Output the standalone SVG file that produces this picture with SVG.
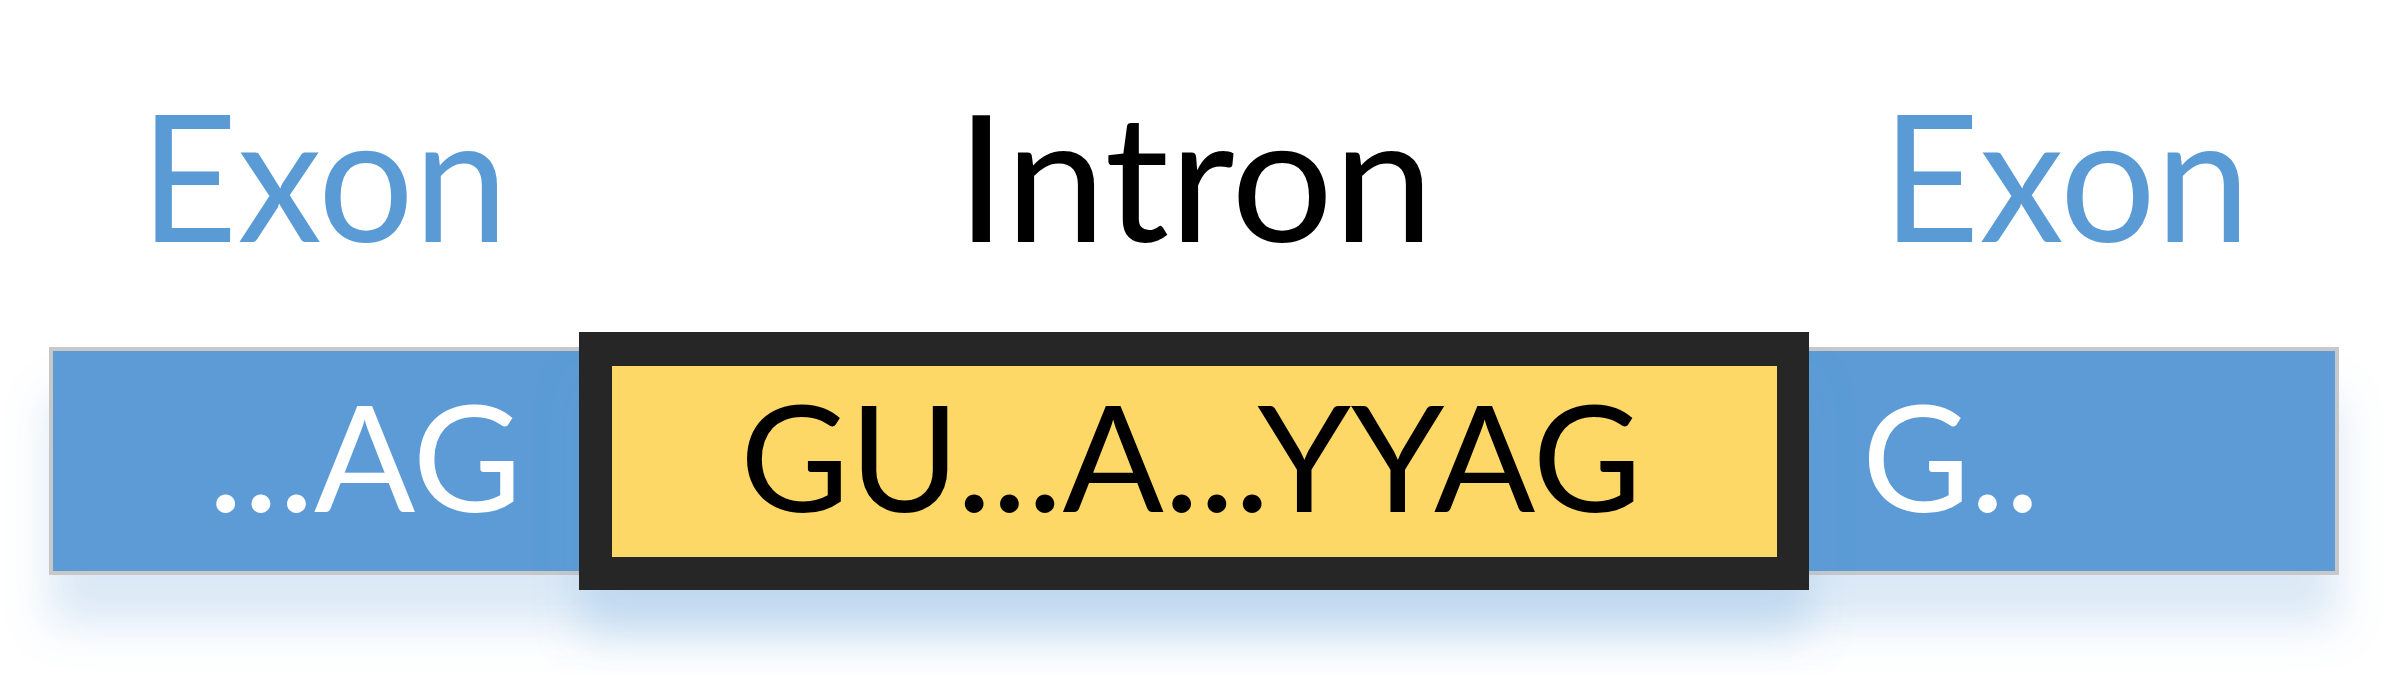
<svg xmlns="http://www.w3.org/2000/svg" width="2400" height="675" viewBox="0 0 2400 675">
  <defs>
    <filter id="shadow" x="-5%" y="-20%" width="110%" height="190%">
      <feGaussianBlur in="SourceAlpha" stdDeviation="22" result="b"/>
      <feOffset in="b" dy="50" result="o"/>
      <feFlood flood-color="#5B9BD5" flood-opacity="0.22"/>
      <feComposite in2="o" operator="in" result="s"/>
      <feMerge>
        <feMergeNode in="s"/>
        <feMergeNode in="SourceGraphic"/>
      </feMerge>
    </filter>
    <style>
      .title { font-family: Lato, "Open Sans", sans-serif; font-size: 176px; }
      .exon-title { fill: #5B9BD5; }
      .intron-title { fill: #000000; }
      .seq { font-family: Lato, "Open Sans", sans-serif; font-size: 148px; }
      .seq-white { fill: #FFFFFF; }
      .seq-black { fill: #000000; }
    </style>
  </defs>
  <rect width="2400" height="675" fill="#FFFFFF"/>

  <g id="exon-bar" filter="url(#shadow)">
    <rect x="51" y="349" width="2286" height="224" fill="#5B9BD5" stroke="#C8C8C8" stroke-width="4"/>
  </g>

  <g id="intron-box" filter="url(#shadow)">
    <rect x="579" y="332" width="1230" height="258" fill="#262626"/>
    <rect x="612" y="366" width="1165" height="191" fill="#FDD866"/>
  </g>

  <g id="exon-left">
    <text class="title exon-title" x="140" y="242" textLength="368" lengthAdjust="spacingAndGlyphs">Exon</text>
    <text class="seq seq-white" x="208" y="512" textLength="314" lengthAdjust="spacingAndGlyphs">...AG</text>
  </g>

  <g id="intron">
    <text class="title intron-title" x="956" y="242" textLength="478" lengthAdjust="spacingAndGlyphs">Intron</text>
    <text class="seq seq-black" x="740" y="512" textLength="902" lengthAdjust="spacingAndGlyphs">GU...A...YYAG</text>
  </g>

  <g id="exon-right">
    <text class="title exon-title" x="1882" y="242" textLength="368" lengthAdjust="spacingAndGlyphs">Exon</text>
    <text class="seq seq-white" x="1862" y="512" textLength="178" lengthAdjust="spacingAndGlyphs">G..</text>
  </g>

  <g id="connectors"/>
</svg>
